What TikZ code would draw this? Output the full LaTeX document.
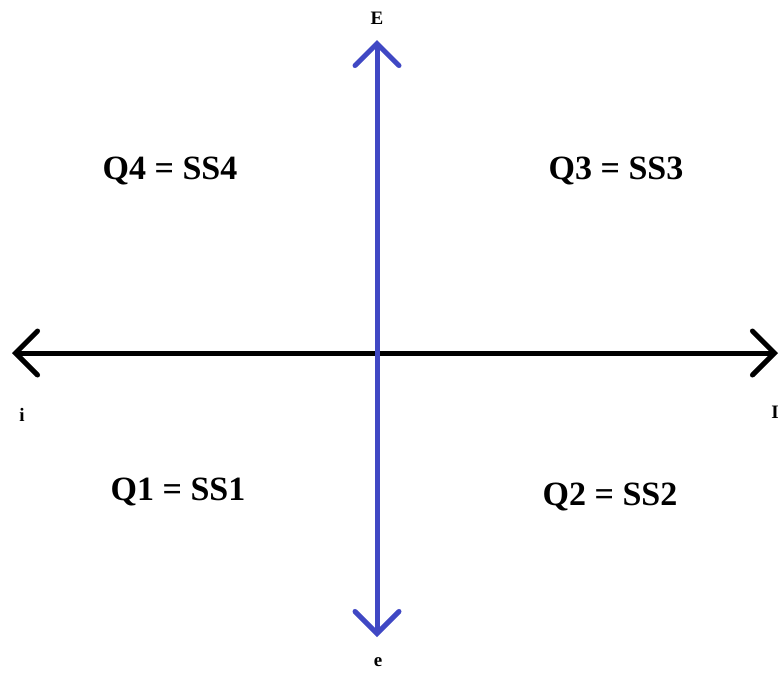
\documentclass[tikz,border=0pt]{standalone}
\usepackage{fontspec}
\setmainfont{Liberation Serif}
\usetikzlibrary{arrows.meta}
\definecolor{axisblue}{RGB}{64,72,196}

\begin{document}
\begin{tikzpicture}[
        x=1pt, y=-1pt,
        axis/.style={line width=5pt, line cap=round, {Straight Barb[length=22pt, width=44pt, line cap=round]}-{Straight Barb[length=22pt, width=44pt, line cap=round]}},
        quad/.style={font=\fontsize{34}{40}\selectfont\bfseries, inner sep=0pt},
        ends/.style={font=\fontsize{19}{22}\selectfont\bfseries, inner sep=0pt}
    ]
        \useasboundingbox (0,0) rectangle (780,673);

        % --- AXIS ENDS ---
        \coordinate (top) at (377,40);
        \coordinate (bottom) at (377,637);
        \coordinate (left) at (12,353);
        \coordinate (right) at (778,353);

        % --- AXES ---
        \draw[axis, black] (left) -- (right);
        \draw[axis, axisblue] (bottom) -- (top);

        % --- END LABELS ---
        \node[ends] (lblE) at (377,18) {E};
        \node[ends] (lble) at (378,662) {e};
        \node[ends] (lbli) at (22,415) {i};
        \node[ends, anchor=east] (lblI) at (779,412) {I};

        % --- QUADRANTS ---
        \node[quad] (q4) at (170,171) {Q4 = SS4};
        \node[quad] (q3) at (616,171) {Q3 = SS3};
        \node[quad] (q1) at (178,492) {Q1 = SS1};
        \node[quad] (q2) at (610,497) {Q2 = SS2};
    \end{tikzpicture}
\end{document}
